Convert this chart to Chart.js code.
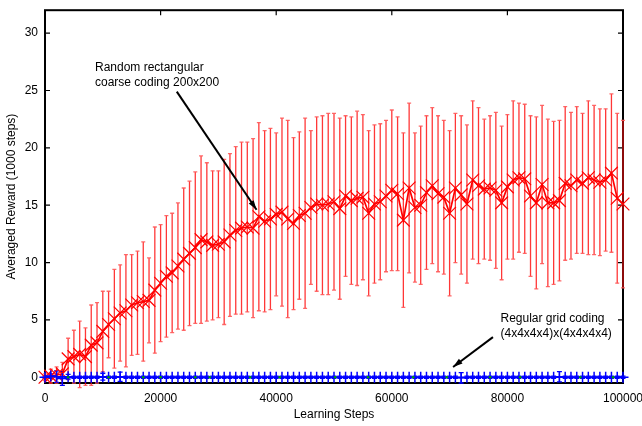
<!DOCTYPE html>
<html>
<head>
<meta charset="utf-8">
<script src="https://cdn.jsdelivr.net/npm/chart.js@4.4.1/dist/chart.umd.min.js"></script>
<style>
  body { margin: 0; background: #fff; }
</style>
</head>
<body>
<canvas id="chart" width="642" height="426"></canvas>
<script>
// learning steps (x)
const steps = [
  0, 1000, 2000, 3000, 4000, 5000, 6000, 7000, 8000, 9000,
  10000, 11000, 12000, 13000, 14000, 15000, 16000, 17000, 18000, 19000,
  20000, 21000, 22000, 23000, 24000, 25000, 26000, 27000, 28000, 29000,
  30000, 31000, 32000, 33000, 34000, 35000, 36000, 37000, 38000, 39000,
  40000, 41000, 42000, 43000, 44000, 45000, 46000, 47000, 48000, 49000,
  50000, 51000, 52000, 53000, 54000, 55000, 56000, 57000, 58000, 59000,
  60000, 61000, 62000, 63000, 64000, 65000, 66000, 67000, 68000, 69000,
  70000, 71000, 72000, 73000, 74000, 75000, 76000, 77000, 78000, 79000,
  80000, 81000, 82000, 83000, 84000, 85000, 86000, 87000, 88000, 89000,
  90000, 91000, 92000, 93000, 94000, 95000, 96000, 97000, 98000, 99000,
  100000
];

// random rectangular coarse coding 200x200
const redMean = [
  0.0, 0.1, 0.2, 0.3, 1.6, 1.8, 2.0, 1.8, 2.8, 3.0,
  4.0, 4.6, 5.1, 5.6, 5.8, 6.3, 6.5, 6.6, 6.7, 7.6,
  8.2, 8.8, 9.1, 9.7, 10.3, 10.8, 11.3, 12.0, 11.8, 11.5,
  11.6, 11.8, 12.4, 12.8, 13.0, 13.1, 13.0, 14.0, 13.6, 13.8,
  14.2, 14.4, 13.8, 13.4, 14.1, 14.3, 14.8, 15.1, 15.0, 15.1,
  15.3, 14.7, 15.8, 15.4, 15.6, 15.7, 14.3, 15.1, 15.3, 15.8,
  16.3, 16.0, 13.7, 16.5, 14.8, 15.0, 16.1, 16.7, 16.0, 15.7,
  14.3, 16.5, 15.9, 15.1, 17.2, 16.7, 16.4, 16.5, 16.3, 15.2,
  16.6, 17.2, 17.4, 17.3, 15.8, 15.2, 16.8, 15.2, 15.2, 15.4,
  16.9, 16.7, 17.2, 16.9, 17.4, 17.2, 17.0, 17.2, 17.8, 15.6,
  15.1
];
const redSd = [
  0.3, 0.6, 0.7, 1.0, 1.8, 2.3, 2.9, 2.5, 3.5, 3.5,
  3.5, 2.9, 4.3, 4.2, 4.9, 4.4, 4.5, 5.2, 3.7, 5.5,
  5.1, 5.3, 5.2, 5.5, 6.2, 6.3, 6.6, 7.3, 6.9, 6.5,
  6.4, 7.2, 7.1, 7.3, 7.5, 7.4, 7.8, 8.2, 7.9, 7.9,
  7.1, 8.2, 8.6, 7.5, 7.3, 8.3, 6.7, 7.6, 7.8, 7.9,
  7.7, 7.9, 7.0, 7.3, 7.6, 7.2, 7.2, 6.9, 6.8, 6.6,
  7.0, 6.7, 7.6, 7.4, 6.5, 6.9, 6.7, 6.8, 6.8, 6.7,
  7.2, 6.5, 6.9, 6.9, 6.9, 6.8, 6.1, 6.3, 6.8, 6.7,
  6.3, 6.9, 6.5, 6.5, 7.0, 7.5, 6.9, 7.3, 7.1, 7.0,
  6.7, 6.4, 6.4, 6.1, 6.7, 6.5, 6.4, 6.2, 6.9, 7.4,
  7.3
];

// regular grid coding (4x4x4x4)x(4x4x4x4)
const blueMean = [
  0.0, 0.1, 0.05, -0.1, 0.05, 0, 0, 0, 0, 0,
  0.05, 0, 0, 0.05, 0, 0, 0, 0, 0, 0,
  0, 0, 0, 0, 0, 0, 0, 0, 0, 0,
  0, 0, 0, 0, 0, 0, 0, 0, 0, 0,
  0, 0, 0, 0, 0, 0, 0, 0, 0, 0,
  0, 0, 0, 0, 0, 0, 0, 0, 0, 0,
  0, 0, 0, 0, 0, 0, 0, 0, 0, 0,
  0, 0, -0.05, 0, 0, 0, 0, 0, 0, 0,
  0, 0, 0, 0, 0, 0, 0, 0, 0, 0.05,
  0, 0, 0, 0, 0, 0, 0, 0, 0, 0,
  0
];
const blueSd = [
  0.1, 0.2, 0.5, 0.6, 0.2, 0.1, 0.1, 0.1, 0.1, 0.1,
  0.3, 0.1, 0.1, 0.4, 0.1, 0.1, 0.1, 0.1, 0.1, 0.1,
  0.1, 0.1, 0.1, 0.1, 0.1, 0.1, 0.1, 0.1, 0.1, 0.1,
  0.1, 0.1, 0.1, 0.1, 0.1, 0.1, 0.1, 0.1, 0.1, 0.1,
  0.1, 0.1, 0.1, 0.1, 0.1, 0.1, 0.1, 0.1, 0.1, 0.1,
  0.1, 0.1, 0.1, 0.1, 0.1, 0.1, 0.1, 0.1, 0.1, 0.1,
  0.1, 0.1, 0.1, 0.1, 0.1, 0.1, 0.1, 0.1, 0.1, 0.1,
  0.1, 0.1, 0.45, 0.1, 0.1, 0.1, 0.1, 0.1, 0.1, 0.1,
  0.1, 0.1, 0.1, 0.1, 0.1, 0.1, 0.1, 0.1, 0.1, 0.45,
  0.1, 0.1, 0.1, 0.1, 0.1, 0.1, 0.1, 0.1, 0.1, 0.1,
  0.1
];

// the little green dots along zero
const greenSteps = [4000, 11000, 17000, 20000, 26000, 28500, 35500, 40600, 50200, 55900, 63700, 69500, 77000, 82200, 92600, 98300];
const greenValues = [0, 0, 0, 0, 0, 0, 0, 0, 0, 0, 0, 0, 0, 0, 0, 0];

const xTicks = [0, 20000, 40000, 60000, 80000, 100000];
const yTicks = [0, 5, 10, 15, 20, 25, 30];

const FONT = "'Liberation Sans', Arial, sans-serif";

function toPoints(xs, ys) {
  return xs.map((s, i) => ({ x: s, y: ys[i] }));
}

function drawErrorBars(ctx, x, y, mean, sd, color, capColor, cap) {
  ctx.save();
  ctx.lineWidth = 1.3;
  steps.forEach((s, i) => {
    const px = x.getPixelForValue(s);
    const lo = y.getPixelForValue(mean[i] - sd[i]);
    const hi = y.getPixelForValue(mean[i] + sd[i]);
    ctx.strokeStyle = color;
    ctx.beginPath();
    ctx.moveTo(px, lo);
    ctx.lineTo(px, hi);
    ctx.stroke();
    ctx.strokeStyle = capColor;
    ctx.beginPath();
    ctx.moveTo(px - cap, lo);
    ctx.lineTo(px + cap, lo);
    ctx.moveTo(px - cap, hi);
    ctx.lineTo(px + cap, hi);
    ctx.stroke();
  });
  ctx.restore();
}

// box round the plot, ticks pointing inwards on all four sides
const frame = {
  id: 'frame',
  beforeDatasetsDraw(chart) {
    const { ctx, chartArea: a, scales: { x, y } } = chart;
    ctx.save();
    ctx.strokeStyle = '#000';
    ctx.lineWidth = 2;
    ctx.strokeRect(a.left, a.top, a.right - a.left, a.bottom - a.top);
    ctx.lineWidth = 1.2;
    ctx.beginPath();
    yTicks.forEach(v => {
      const py = y.getPixelForValue(v);
      ctx.moveTo(a.left, py); ctx.lineTo(a.left + 5, py);
      ctx.moveTo(a.right, py); ctx.lineTo(a.right - 5, py);
    });
    xTicks.forEach(v => {
      const px = x.getPixelForValue(v);
      ctx.moveTo(px, a.top); ctx.lineTo(px, a.top + 5);
      ctx.moveTo(px, a.bottom); ctx.lineTo(px, a.bottom - 5);
    });
    ctx.stroke();
    ctx.restore();
  }
};

const errorBars = {
  id: 'errorBars',
  beforeDatasetsDraw(chart) {
    const { ctx, scales: { x, y } } = chart;
    drawErrorBars(ctx, x, y, redMean, redSd, 'rgba(255,20,20,0.85)', 'rgba(255,90,90,0.9)', 2);
    drawErrorBars(ctx, x, y, blueMean, blueSd, '#0000ff', '#0000ff', 2.5);
  }
};

// text labels with arrows, placed in data units
const notes = [
  { lines: ['Random rectangular', 'coarse coding 200x200'], x: 8650, y: 27.0, from: [22800, 24.9], to: [36600, 14.6] },
  { lines: ['Regular grid coding', '(4x4x4x4)x(4x4x4x4)'], x: 78800, y: 5.1, from: [77500, 3.5], to: [70600, 0.9] }
];

function arrow(ctx, x1, y1, x2, y2) {
  const ang = Math.atan2(y2 - y1, x2 - x1);
  const len = 10;
  ctx.beginPath();
  ctx.moveTo(x1, y1);
  ctx.lineTo(x2, y2);
  ctx.stroke();
  ctx.beginPath();
  ctx.moveTo(x2, y2);
  ctx.lineTo(x2 - len * Math.cos(ang - 0.3), y2 - len * Math.sin(ang - 0.3));
  ctx.lineTo(x2 - len * Math.cos(ang + 0.3), y2 - len * Math.sin(ang + 0.3));
  ctx.closePath();
  ctx.fill();
}

const annotations = {
  id: 'annotations',
  afterDatasetsDraw(chart) {
    const { ctx, scales: { x, y } } = chart;
    ctx.save();
    ctx.fillStyle = '#000';
    ctx.strokeStyle = '#000';
    ctx.lineWidth = 2;
    ctx.font = '12px ' + FONT;
    ctx.textBaseline = 'middle';
    notes.forEach(n => {
      const px = x.getPixelForValue(n.x);
      const py = y.getPixelForValue(n.y);
      n.lines.forEach((t, i) => ctx.fillText(t, px, py + i * 15));
      arrow(ctx,
        x.getPixelForValue(n.from[0]), y.getPixelForValue(n.from[1]),
        x.getPixelForValue(n.to[0]), y.getPixelForValue(n.to[1]));
    });
    ctx.restore();
  }
};

new Chart(document.getElementById('chart'), {
  type: 'line',
  data: {
    datasets: [
      {
        data: toPoints(greenSteps, greenValues),
        showLine: false,
        pointStyle: 'circle',
        pointRadius: 1.3,
        backgroundColor: '#00a000',
        borderColor: '#00a000',
        borderWidth: 0,
        clip: false
      },
      {
        data: toPoints(steps, blueMean),
        borderColor: '#0000ff',
        borderWidth: 1.5,
        pointStyle: 'cross',
        pointRadius: 5.5,
        pointBorderWidth: 1.5,
        pointBorderColor: '#0000ff',
        tension: 0,
        clip: false
      },
      {
        data: toPoints(steps, redMean),
        borderColor: '#ff0000',
        borderWidth: 1.7,
        pointStyle: 'crossRot',
        pointRadius: 9,
        pointBorderWidth: 1.2,
        pointBorderColor: '#ff0000',
        tension: 0,
        clip: false
      }
    ]
  },
  options: {
    responsive: false,
    animation: false,
    devicePixelRatio: 1,
    layout: { padding: { top: 4, right: 19, left: 0, bottom: 0 } },
    plugins: {
      legend: { display: false },
      tooltip: { enabled: false }
    },
    scales: {
      x: {
        type: 'linear',
        min: 0,
        max: 100000,
        grid: { display: false, drawTicks: false },
        border: { display: false },
        afterBuildTicks: s => { s.ticks = xTicks.map(v => ({ value: v })); },
        afterFit: s => { s.height = 43; s.paddingLeft = 0; s.paddingRight = 0; },
        ticks: {
          color: '#000',
          padding: 8,
          maxRotation: 0,
          font: { family: FONT, size: 12 },
          callback: v => String(v)
        },
        title: {
          display: true,
          text: 'Learning Steps',
          color: '#000',
          font: { family: FONT, size: 12 }
        }
      },
      y: {
        type: 'linear',
        min: -0.5,
        max: 32,
        grid: { display: false, drawTicks: false },
        border: { display: false },
        afterBuildTicks: s => { s.ticks = yTicks.map(v => ({ value: v })); },
        afterFit: s => { s.width = 45; s.paddingTop = 0; s.paddingBottom = 0; },
        ticks: {
          color: '#000',
          padding: 7,
          font: { family: FONT, size: 12 },
          callback: v => String(v)
        },
        title: {
          display: true,
          text: 'Averaged Reward (1000 steps)',
          color: '#000',
          font: { family: FONT, size: 12 }
        }
      }
    }
  },
  plugins: [frame, errorBars, annotations]
});
</script>
</body>
</html>
